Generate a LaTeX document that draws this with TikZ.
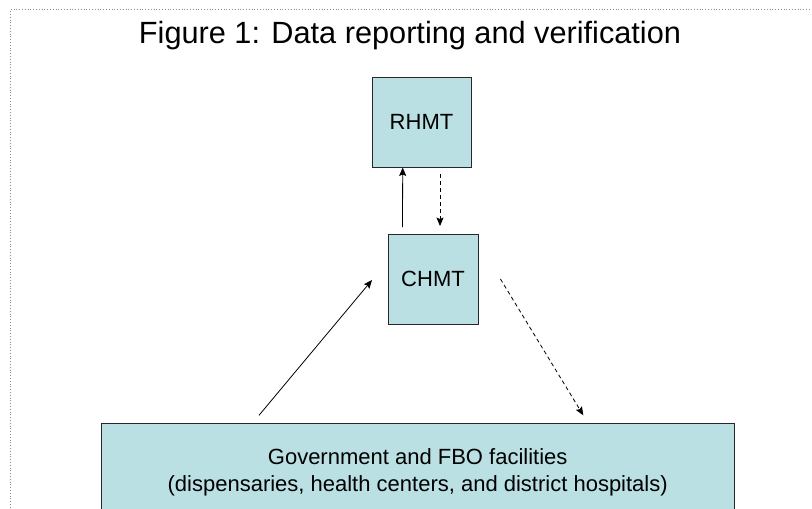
\documentclass[tikz,border=0pt]{standalone}
\usepackage{fontspec}
\setmainfont{Liberation Sans}
\usetikzlibrary{arrows.meta}
\definecolor{boxfill}{RGB}{186,224,227}
\definecolor{boxline}{RGB}{40,40,40}
\tikzset{
  unitbox/.style={draw=boxline, fill=boxfill, line width=0.9pt, inner sep=0pt,
    font=\fontsize{22}{27.3}\selectfont, align=center},
  flow/.style={line width=0.8pt, -{Stealth[length=8.5pt,width=7pt,inset=1.5pt]}},
  back/.style={flow, dash pattern=on 4pt off 3pt},
  frame/.style={draw=black!45, dotted, line width=0.8pt}
}
\begin{document}
\begin{tikzpicture}[x=1pt, y=-1pt]
  \useasboundingbox (0,0) rectangle (812,509);
  \clip (0,0) rectangle (812,509);

  % outer dotted frame (only top and left edges fall on the page)
  \draw[frame] (10.5,530) -- (10.5,9.5) -- (830,9.5);

  % title
  \node[anchor=base, font=\fontsize{30.7}{36}\selectfont, inner sep=0pt] (title)
    at (410,43.5) {Figure 1: Data reporting and verification};

  % reporting units
  \node[unitbox, minimum width=99pt, minimum height=90pt] (rhmt) at (421.5,122) {RHMT};
  \node[unitbox, minimum width=90pt, minimum height=90pt] (chmt) at (433,279) {CHMT};
  \node[unitbox, anchor=north, minimum width=633pt, minimum height=98pt] (fac) at (417.7,423)
    {Government and FBO facilities\\(dispensaries, health centers, and district hospitals)};

  % reporting upwards (solid) and feedback downwards (dashed)
  \draw[flow] ([xshift=-30.5pt, yshift=6.5pt]chmt.north) -- ([xshift=-18.8pt]rhmt.south);
  \draw[back] ([xshift=18.5pt, yshift=-7pt]rhmt.south) -- ([xshift=7pt, yshift=7.5pt]chmt.north);
  \draw[flow] ([xshift=-158.7pt, yshift=7.7pt]fac.north) -- ([xshift=-15.5pt, yshift=-1pt]chmt.west);
  \draw[back] ([xshift=22pt]chmt.east) -- ([xshift=165.6pt, yshift=7.7pt]fac.north);
\end{tikzpicture}
\end{document}
